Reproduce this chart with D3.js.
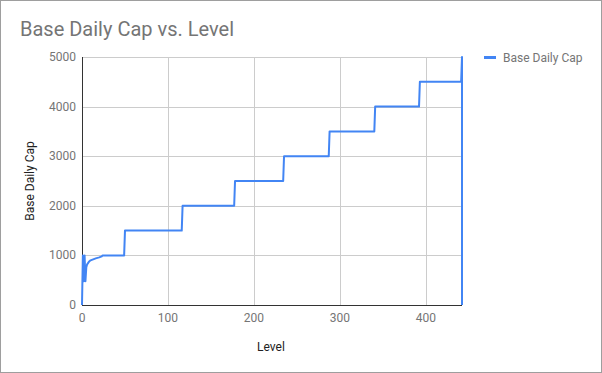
<!DOCTYPE html>
<html>
<head>
<meta charset="utf-8">
<script src="https://cdn.jsdelivr.net/npm/d3@7"></script>
<style>
  body { margin: 0; background: #fff; }
  svg { display: block; font-family: Roboto, Arial, sans-serif; }
</style>
</head>
<body>
<div id="chart"></div>
<script>
// Base Daily Cap vs. Level - stepped line

const levels = [0, 1, 2, 3, 4, 5, 6, 8, 10, 13, 16, 20, 23, 24,
    49, 50, 116, 117, 177, 178, 234, 235, 287, 288, 340, 341, 392, 393, 441, 442, 442];
const caps = [0, 1000, 480, 1000, 480, 760, 820, 870, 900, 920, 940, 960, 980, 1000,
    1000, 1500, 1500, 2000, 2000, 2500, 2500, 3000, 3000, 3500, 3500, 4000, 4000, 4500, 4500, 5000, 0];
const xTicks = [0, 100, 200, 300, 400];
const yTicks = [0, 1000, 2000, 3000, 4000, 5000];
const seriesName = "Base Daily Cap";

const w = 602, h = 373;
const padL = 82, padR = 462, padT = 57, padB = 305;

const svg = d3.select("#chart").append("svg")
    .attr("width", w)
    .attr("height", h);

// outer frame
svg.append("rect")
    .attr("x", 0.5).attr("y", 0.5)
    .attr("width", w - 1).attr("height", h - 1)
    .attr("fill", "#fff")
    .attr("stroke", "#9e9e9e");

const xScale = d3.scaleLinear().domain([0, 442]).range([padL, padR]);
const yScale = d3.scaleLinear().domain([0, 5000]).range([padB, padT]);

// gridlines
svg.append("g").selectAll("line")
    .data(yTicks.filter(d => d > 0))
    .join("line")
    .attr("x1", padL).attr("x2", padR)
    .attr("y1", d => Math.round(yScale(d)) + 0.5)
    .attr("y2", d => Math.round(yScale(d)) + 0.5)
    .attr("stroke", "#cccccc");

svg.append("g").selectAll("line")
    .data(xTicks.filter(d => d > 0))
    .join("line")
    .attr("y1", padT).attr("y2", padB)
    .attr("x1", d => Math.round(xScale(d)) + 0.5)
    .attr("x2", d => Math.round(xScale(d)) + 0.5)
    .attr("stroke", "#cccccc");

// tick labels
svg.append("g").selectAll("text")
    .data(yTicks)
    .join("text")
    .attr("x", padL - 6)
    .attr("y", d => yScale(d) + 4)
    .attr("text-anchor", "end")
    .attr("font-size", 12)
    .attr("fill", "#757575")
    .text(d => d);

svg.append("g").selectAll("text")
    .data(xTicks)
    .join("text")
    .attr("x", d => xScale(d))
    .attr("y", padB + 17)
    .attr("text-anchor", "middle")
    .attr("font-size", 12)
    .attr("fill", "#757575")
    .text(d => d);

// axis baselines
svg.append("line")
    .attr("x1", padL).attr("x2", padR)
    .attr("y1", padB + 0.5).attr("y2", padB + 0.5)
    .attr("stroke", "#333");
svg.append("line")
    .attr("x1", padL + 0.5).attr("x2", padL + 0.5)
    .attr("y1", padT).attr("y2", padB)
    .attr("stroke", "#333");

// the series
const pts = levels.map((l, i) => [l, caps[i]]);
const line = d3.line()
    .x(d => xScale(d[0]))
    .y(d => yScale(d[1]));

svg.append("path")
    .datum(pts)
    .attr("d", line)
    .attr("fill", "none")
    .attr("stroke", "#4285f4")
    .attr("stroke-width", 2)
    .attr("stroke-linejoin", "round");

// title
svg.append("text")
    .attr("x", 20).attr("y", 36)
    .attr("font-size", 20)
    .attr("fill", "#757575")
    .text("Base Daily Cap vs. Level");

// axis titles
svg.append("text")
    .attr("x", (padL + padR) / 2 - 1)
    .attr("y", 351)
    .attr("text-anchor", "middle")
    .attr("font-size", 12)
    .attr("fill", "#222")
    .text("Level");

svg.append("text")
    .attr("transform", "translate(34," + ((padT + padB) / 2) + ") rotate(-90)")
    .attr("text-anchor", "middle")
    .attr("font-size", 12)
    .attr("fill", "#222")
    .text("Base Daily Cap");

// legend
svg.append("line")
    .attr("x1", 484).attr("x2", 496)
    .attr("y1", 57.5).attr("y2", 57.5)
    .attr("stroke", "#4285f4")
    .attr("stroke-width", 3);
svg.append("text")
    .attr("x", 503).attr("y", 62)
    .attr("font-size", 12)
    .attr("fill", "#757575")
    .text(seriesName);
</script>
</body>
</html>
